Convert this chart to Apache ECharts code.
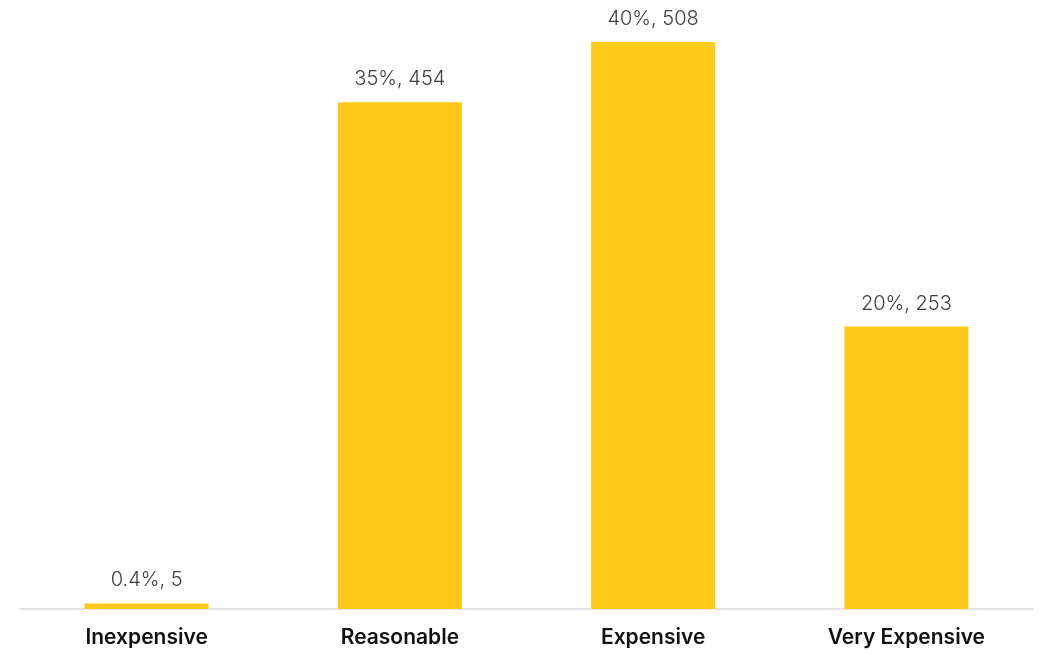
<!DOCTYPE html>
<html>
<head>
<meta charset="utf-8">
<script src="https://cdn.jsdelivr.net/npm/echarts@6/dist/echarts.min.js"></script>
<style>
html,body{margin:0;padding:0;background:#fff;}
#chart{width:1041px;height:654px;}
</style>
</head>
<body>
<div id="chart"></div>
<script>
const categories = ['Inexpensive', 'Reasonable', 'Expensive', 'Very Expensive'];
const counts = [5, 454, 508, 253];
const percents = ['0.4%', '35%', '40%', '20%'];

const chart = echarts.init(document.getElementById('chart'), null, {renderer: 'canvas'});
chart.setOption({
  animation: false,
  backgroundColor: '#ffffff',
  grid: {left: 20, right: 8, top: 42, bottom: 45, containLabel: false},
  xAxis: {
    type: 'category',
    data: categories,
    axisLine: {show: true, lineStyle: {color: '#d9d9d9', width: 1.5}},
    axisTick: {show: false},
    axisLabel: {
      color: '#111111',
      fontFamily: 'Inter',
      fontWeight: 600,
      fontSize: 21,
      margin: 18
    }
  },
  yAxis: {
    type: 'value',
    min: 0,
    max: 508,
    show: false,
    splitLine: {show: false}
  },
  series: [{
    type: 'bar',
    data: counts,
    barWidth: 124,
    itemStyle: {color: '#FFCA1A'},
    label: {
      show: true,
      position: 'top',
      distance: 13,
      color: '#404040',
      fontFamily: 'Inter',
      fontWeight: 300,
      fontSize: 20,
      formatter: p => percents[p.dataIndex] + ', ' + counts[p.dataIndex]
    }
  }]
});
</script>
</body>
</html>
